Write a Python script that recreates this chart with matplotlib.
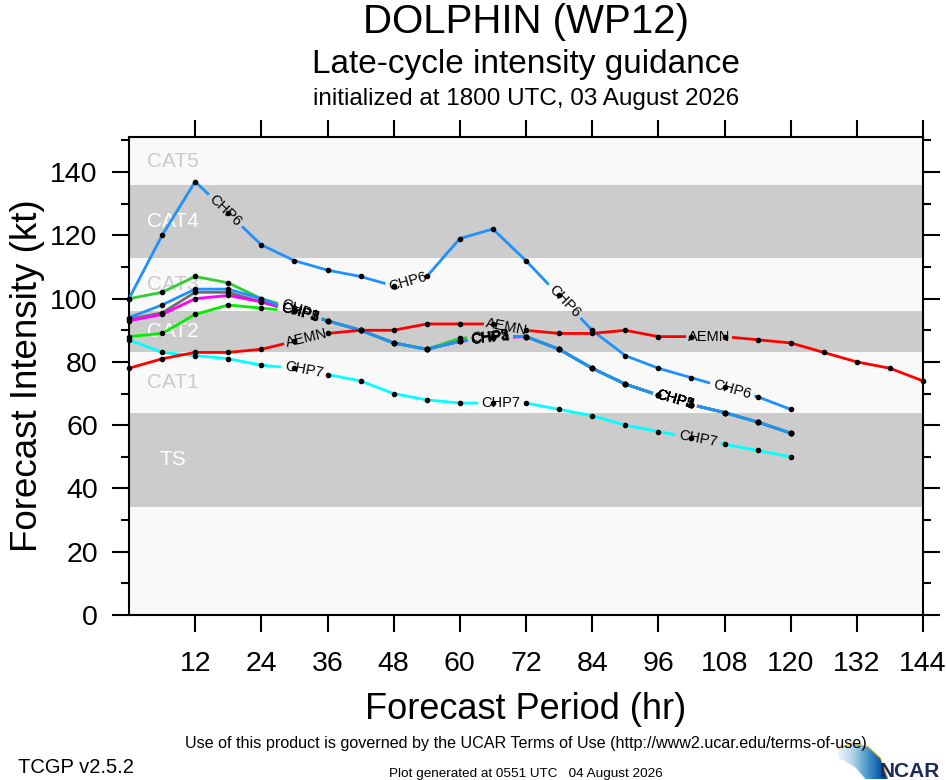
import numpy as np
import matplotlib
matplotlib.use("Agg")
import matplotlib.pyplot as plt
from matplotlib.patches import Polygon

plt.rcParams['font.family'] = ['Liberation Sans', 'DejaVu Sans']

W, H = 946, 780

# forecast hours
hours = [0, 6, 12, 18, 24, 30, 36, 42, 48, 54, 60, 66, 72, 78, 84, 90, 96, 102, 108, 114, 120]
hours_aemn = [0, 6, 12, 18, 24, 30, 36, 42, 48, 54, 60, 66, 72, 78, 84, 90, 96, 102,
              108, 114, 120, 126, 132, 138, 144]

# intensities (kt)
chp1 = [100, 102, 107, 105, 100, 97, 93, 90, 86, 84, 87.5, 88, 88, 84, 78, 73, 69.5, 66.5, 64, 61, 57.5]
chp2 = [93.5, 95.5, 102, 102, 99, 96, 93, 90, 86, 84, 86.5, 88, 88, 84, 78, 73, 69.5, 66.5, 64, 61, 57.5]
chp4 = [93, 95, 100, 101, 99, 96, 93, 90, 86, 84, 86.5, 87.5, 88, 84, 78, 73, 69.5, 66.5, 64, 61, 57.5]
chp5 = [88, 89, 95, 98, 97, 96, 93, 90, 86, 84, 86.5, 88, 88, 84, 78, 73, 69.5, 66.5, 64, 61, 57.5]
chp3 = [94, 98, 103, 103, 100, 96, 93, 90, 86, 84, 86.5, 88, 88, 84, 78, 73, 69.5, 66.5, 64, 61, 57.5]
chp6 = [100, 120, 137, 127, 117, 112, 109, 107, 104, 107, 119, 122, 112, 101, 90, 82, 78, 75, 72, 69, 65]
chp7 = [87, 83, 82, 81, 79, 78, 76, 74, 70, 68, 67, 67, 67, 65, 63, 60, 58, 56, 54, 52, 50]
aemn = [78, 81, 83, 83, 84, 86.5, 89, 90, 90, 92, 92, 92, 90, 89, 89, 90, 88, 88, 88, 87, 86,
        83, 80, 78, 74]

# (name, hours, values, colour, label hours)
series = [
    ("CHP1", hours, chp1, "#33cc33", [31, 65.5, 99]),
    ("CHP2", hours, chp2, "#6e6e6e", [31, 65.5, 99]),
    ("CHP4", hours, chp4, "#ff00ff", [31, 65.5, 99]),
    ("CHP5", hours, chp5, "#00ee00", [31, 65.5, 99]),
    ("CHP3", hours, chp3, "#1e90ff", [31, 65.5, 99]),
    ("CHP6", hours, chp6, "#1e90ff", [17.5, 50.5, 79, 109.4]),
    ("CHP7", hours, chp7, "#00ffff", [31.7, 67.5, 103.2]),
    ("AEMN", hours_aemn, aemn, "#ff0000", [32.2, 68.5, 105.2]),
]

# intensity categories: name, lower, upper, shaded
cat_names = ["TS", "CAT1", "CAT2", "CAT3", "CAT4", "CAT5"]
cat_lower = [34, 64, 83, 96, 113, 136]
cat_upper = [64, 83, 96, 113, 136, 151]
cat_shaded = [True, False, True, False, True, False]

fig = plt.figure(figsize=(W / 100, H / 100), dpi=100)
ax = fig.add_axes([129 / W, 1 - 615 / H, (923 - 129) / W, (615 - 137.3) / H])
ax.set_xlim(0, 144)
ax.set_ylim(0, 151)
ax.set_facecolor("#f9f9f9")

for name, lo, hi, shaded in zip(cat_names, cat_lower, cat_upper, cat_shaded):
    if shaded:
        ax.axhspan(lo, hi, color="#cccccc", lw=0, zorder=0)
    ax.text(8, (lo + hi) / 2, name, ha="center", va="center", fontsize=15,
            color="white" if shaded else "#cacaca", zorder=1)

GAP = 23  # half gap in px around a line label


def labelled_line(name, xs, ys, color, label_hours):
    pts = ax.transData.transform(np.column_stack([xs, ys]))
    px, py = pts[:, 0], pts[:, 1]
    s = np.concatenate([[0], np.cumsum(np.hypot(np.diff(px), np.diff(py)))])
    gaps = []
    for lh in label_hours:
        s0 = np.interp(lh, xs, s)
        gaps.append((s0 - GAP, s0 + GAP))
        cx, cy = np.interp(s0, s, px), np.interp(s0, s, py)
        i = min(np.searchsorted(s, s0) - 1, len(s) - 2)
        i = max(i, 0)
        ang = np.degrees(np.arctan2(py[i + 1] - py[i], px[i + 1] - px[i]))
        lx, ly = ax.transData.inverted().transform((cx, cy))
        ax.text(lx, ly, name, rotation=ang, rotation_mode="anchor", ha="center",
                va="center", fontsize=10.5, zorder=6)
    # pieces of the line outside the label gaps
    edges = [0]
    for a, b in gaps:
        edges += [a, b]
    edges.append(s[-1])
    for a, b in zip(edges[::2], edges[1::2]):
        if b <= a:
            continue
        inner = (s > a) & (s < b)
        qx = np.concatenate([[np.interp(a, s, px)], px[inner], [np.interp(b, s, px)]])
        qy = np.concatenate([[np.interp(a, s, py)], py[inner], [np.interp(b, s, py)]])
        d = ax.transData.inverted().transform(np.column_stack([qx, qy]))
        ax.plot(d[:, 0], d[:, 1], color=color, lw=2, solid_capstyle="butt", zorder=3)
    ax.plot(xs, ys, "o", color="black", ms=3, zorder=4, clip_on=False)


for name, xs, ys, color, lh in series:
    labelled_line(name, xs, ys, color, lh)

ax.set_xticks(np.arange(12, 145, 12))
ax.set_yticks(np.arange(0, 141, 20))
ax.set_yticks(np.arange(10, 151, 20), minor=True)
ax.tick_params(which="both", direction="out", top=True, right=True, width=1.5)
ax.tick_params(which="major", length=12, labelsize=20.5)
ax.tick_params(which="minor", length=6)
ax.tick_params(axis="x", pad=14)
ax.tick_params(axis="y", pad=10.5)
for sp in ax.spines.values():
    sp.set_linewidth(1.5)


def ftext(x, y, s, **kw):
    fig.text(x / W, 1 - y / H, s, **kw)


ftext(526, 33, "DOLPHIN (WP12)", ha="center", va="baseline", fontsize=29)
ftext(526, 73, "Late-cycle intensity guidance", ha="center", va="baseline", fontsize=24)
ftext(526, 105, "initialized at 1800 UTC, 03 August 2026", ha="center", va="baseline",
      fontsize=17.5)
ftext(526, 719, "Forecast Period (hr)", ha="center", va="baseline", fontsize=26)
ftext(28, 376, "Forecast Intensity (kt)", ha="center", va="center", rotation=90,
      fontsize=26.5)
ftext(526, 748, "Use of this product is governed by the UCAR Terms of Use "
      "(http://www2.ucar.edu/terms-of-use)", ha="center", va="baseline", fontsize=11.6)
ftext(18, 773, "TCGP v2.5.2", ha="left", va="baseline", fontsize=14.5)
ftext(526, 777, "Plot generated at 0551 UTC   04 August 2026", ha="center",
      va="baseline", fontsize=9.7)
ftext(880, 777, "NCAR", ha="left", va="baseline", fontsize=15, fontweight="bold",
      color="#1b2a5a")

# NCAR swoosh
lax = fig.add_axes([838 / W, 1 / H, 50 / W, 38 / H])
lax.set_xlim(0, 1)
lax.set_ylim(0, 1)
lax.axis("off")
grad = np.linspace(0, 1, 64).reshape(1, -1)
im = lax.imshow(grad, extent=[0, 1, 0, 1], aspect="auto", cmap="Blues", vmin=-0.05,
                vmax=1.0, origin="lower")
swoosh = Polygon([[0.0, 0.8], [0.3, 0.95], [0.6, 0.85], [0.85, 0.55], [1.0, 0.0],
                  [0.55, 0.0], [0.35, 0.3], [0.1, 0.5], [0.0, 0.55]],
                 closed=True, transform=lax.transData, facecolor="none")
lax.add_patch(swoosh)
im.set_clip_path(swoosh)
lax.plot([0.0, 0.3, 0.6, 0.85, 1.0], [0.8, 0.95, 0.85, 0.55, 0.0], color="#e8b040", lw=0.8)

fig.savefig("out.png", dpi=100)
